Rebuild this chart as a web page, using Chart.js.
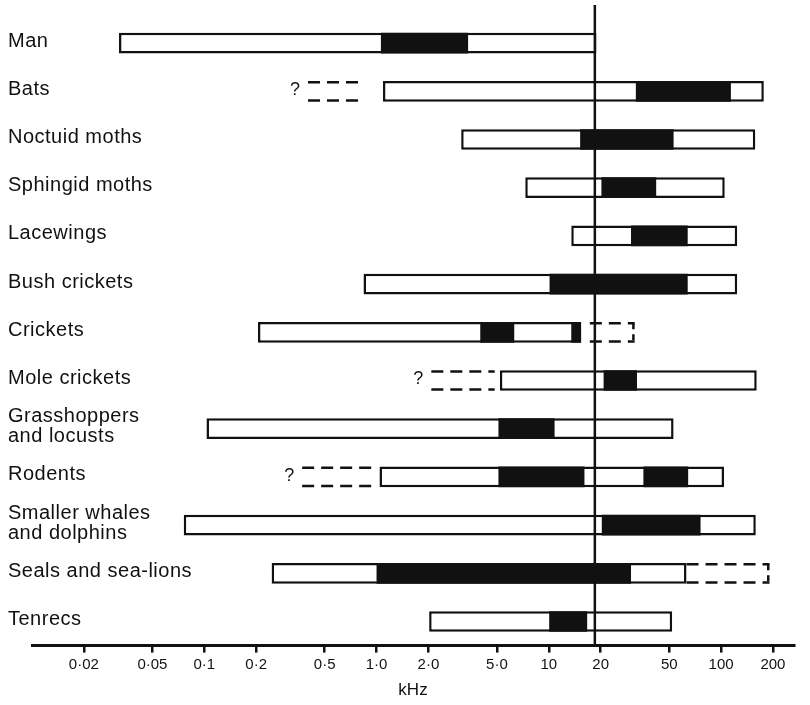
<!DOCTYPE html>
<html>
<head>
<meta charset="utf-8">
<title>Hearing ranges</title>
<script src="https://cdn.jsdelivr.net/npm/chart.js@4.4.0/dist/chart.umd.min.js"></script>
<style>
  html, body { margin: 0; padding: 0; background: #fff; }
  #chart { display: block; }
</style>
</head>
<body>
<canvas id="chart" width="810" height="705"></canvas>
<script>
// hearing ranges in kHz
var categories = ['Man', 'Bats', 'Noctuid moths', 'Sphingid moths', 'Lacewings', 'Bush crickets', 'Crickets',
	'Mole crickets', ['Grasshoppers', 'and locusts'], 'Rodents', ['Smaller whales', 'and dolphins'],
	'Seals and sea-lions', 'Tenrecs'];
var rangeLow  = [0.032, 1.09, 3.1, 7.3, 13.5, 0.84, 0.205, 5.2, 0.103, 1.04, 0.076, 0.246, 2.02];
var rangeHigh = [18.9, 177, 158, 105, 124, 124, 15.4, 161, 53, 104, 159, 63, 52];
// most sensitive part of the range (black)
var bestLow   = [1.06, 32, 15.2, 20.2, 30, 10.1, 4.0, 20.8, 5.1, 5.1, 20.3, 1.0, 10.05];
var bestHigh  = [3.4, 114, 53, 42, 64, 64, 6.3, 32.5, 10.8, 16.1, 76, 30, 16.7];
// second sensitive band, only crickets and rodents have one
var best2Low  = [null, null, null, null, null, null, 13.5, null, null, 35.4, null, null, null];
var best2High = [null, null, null, null, null, null, 15.4, null, null, 64.4, null, null, null];
// uncertain extensions (dashed)
var dashLow   = [null, 0.40, null, null, null, null, 17.3, 2.08, null, 0.37, null, 63, null];
var dashHigh  = [null, 0.82, null, null, null, null, 31.5, 4.85, null, 0.94, null, 191, null];
// x axis
var tickValues = [0.02, 0.05, 0.1, 0.2, 0.5, 1, 2, 5, 10, 20, 50, 100, 200];
var tickLabels = ['0·02', '0·05', '0·1', '0·2', '0·5', '1·0', '2·0', '5·0', '10', '20', '50', '100', '200'];
var ultrasoundLine = 18.5;

var FONT = '"Liberation Sans", Arial, Helvetica, sans-serif';
var INK = '#111';

/** turn two lists into floating bar pairs, null where there is no bar */
function pairs(lo, hi) {
	return lo.map(function(v, i) {
		return v == null ? null : [v, hi[i]];
	});
}

/**
 * Draws the things the bar chart can't do by itself:
 * dashed extensions, the '?' marks, the 20 kHz line and the row labels
 */
var extrasPlugin = {
	id: 'extras',
	afterDatasetsDraw: function(chart) {
		var ctx = chart.ctx;
		var xs = chart.scales.x;
		var ys = chart.scales.y;
		var meta = chart.getDatasetMeta(0);

		ctx.save();
		ctx.strokeStyle = INK;
		ctx.fillStyle = INK;
		ctx.lineWidth = 2.5;
		meta.data.forEach(function(bar, i) {
			if (dashLow[i] == null) return;
			var p = bar.getProps(['x', 'y', 'base', 'height'], true);
			var left = Math.min(p.x, p.base);
			var right = Math.max(p.x, p.base);
			var top = p.y - p.height / 2 + 1.25;
			var bottom = p.y + p.height / 2 - 1.25;
			ctx.setLineDash([12, 7]);
			ctx.beginPath();
			ctx.moveTo(left, top);
			ctx.lineTo(right, top);
			ctx.moveTo(left, bottom);
			ctx.lineTo(right, bottom);
			ctx.stroke();
			if (dashHigh[i] <= rangeLow[i]) {
				// lower limit unknown
				ctx.font = '18px ' + FONT;
				ctx.textAlign = 'center';
				ctx.textBaseline = 'middle';
				ctx.fillText('?', left - 13, p.y - 1);
			} else {
				// extension above the range is closed off at the right
				ctx.setLineDash([6, 5]);
				ctx.beginPath();
				ctx.moveTo(right - 1.25, top);
				ctx.lineTo(right - 1.25, bottom);
				ctx.stroke();
			}
		});

		// 20 kHz line, runs above the plot area
		var vx = xs.getPixelForValue(ultrasoundLine);
		ctx.setLineDash([]);
		ctx.lineWidth = 2.5;
		ctx.beginPath();
		ctx.moveTo(vx, 5);
		ctx.lineTo(vx, xs.top);
		ctx.stroke();

		// row labels sit on top of the plot area, so they are drawn here
		ctx.font = '20px ' + FONT;
		if ('letterSpacing' in ctx) ctx.letterSpacing = '0.5px';
		ctx.textAlign = 'left';
		ctx.textBaseline = 'middle';
		categories.forEach(function(label, i) {
			var y = ys.getPixelForValue(i) - 2;
			var lines = Array.isArray(label) ? label : [label];
			lines.forEach(function(line, k) {
				ctx.fillText(line, 8, y + (k - (lines.length - 1) / 2) * 20);
			});
		});
		ctx.restore();
	}
};

var barCommon = { barPercentage: 0.43, categoryPercentage: 1, grouped: false, borderSkipped: false };

var chart = new Chart(document.getElementById('chart').getContext('2d'), {
	type: 'bar',
	data: {
		labels: categories,
		datasets: [
			Object.assign({ label: 'uncertain', data: pairs(dashLow, dashHigh), backgroundColor: 'rgba(0,0,0,0)', borderWidth: 0, order: 4 }, barCommon),
			Object.assign({ label: 'range', data: pairs(rangeLow, rangeHigh), backgroundColor: '#fff', borderColor: INK, borderWidth: 2.5, order: 3 }, barCommon),
			Object.assign({ label: 'best', data: pairs(bestLow, bestHigh), backgroundColor: INK, borderWidth: 0, order: 2 }, barCommon),
			Object.assign({ label: 'best 2', data: pairs(best2Low, best2High), backgroundColor: INK, borderWidth: 0, order: 1 }, barCommon)
		]
	},
	options: {
		indexAxis: 'y',
		responsive: false,
		animation: false,
		layout: { padding: { left: 32, right: 16, top: 19, bottom: 0 } },
		plugins: {
			legend: { display: false },
			tooltip: { enabled: false }
		},
		scales: {
			x: {
				type: 'logarithmic',
				min: 0.01,
				max: 265,
				afterBuildTicks: function(scale) {
					scale.ticks = tickValues.map(function(v) { return { value: v }; });
				},
				ticks: {
					autoSkip: false,
					maxRotation: 0,
					padding: 3,
					color: INK,
					font: { family: FONT, size: 15 },
					callback: function(value) {
						return tickLabels[tickValues.indexOf(value)];
					}
				},
				grid: { drawOnChartArea: false, drawTicks: true, tickLength: 7, color: INK, lineWidth: 2.5 },
				border: { display: true, color: INK, width: 3 },
				title: { display: true, text: 'kHz', color: INK, font: { family: FONT, size: 17 }, padding: { top: 4, bottom: 4 } }
			},
			y: {
				type: 'category',
				display: false,
				offset: true
			}
		}
	},
	plugins: [extrasPlugin]
});
</script>
</body>
</html>
